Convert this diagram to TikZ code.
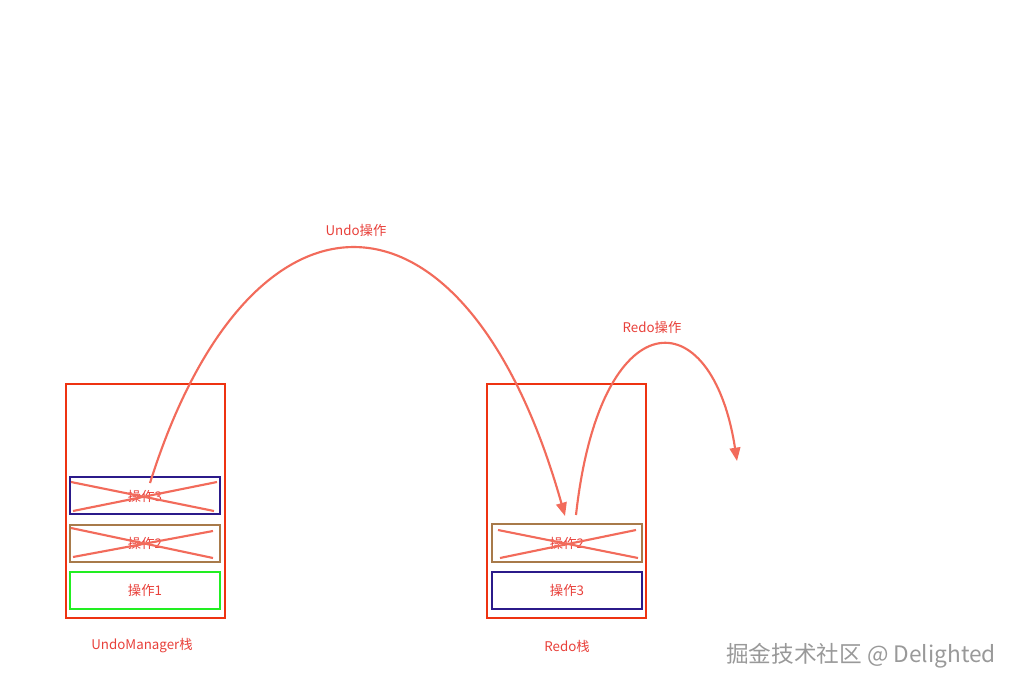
\documentclass[tikz,border=0pt]{standalone}
\usepackage{fontspec}
\setmainfont{Noto Sans CJK SC}
\usetikzlibrary{arrows.meta}
\definecolor{txt}{HTML}{E8403A}
\definecolor{arr}{HTML}{F26B5B}
\definecolor{outer}{HTML}{EE3311}
\definecolor{navy}{HTML}{2B1A8A}
\definecolor{brown}{HTML}{A87A4A}
\definecolor{grn}{HTML}{22EE22}
\tikzset{
 lbl/.style={text=txt,font=\fontsize{10}{12}\selectfont,inner sep=0},
 outerbox/.style={draw=outer,line width=1.6pt},
 opbox/.style={line width=1.6pt},
 crossline/.style={draw=arr,line width=1.6pt},
 arrowline/.style={draw=arr,line width=1.6pt,-{Triangle[length=10pt,width=8pt]}}
}
\begin{document}
\begin{tikzpicture}[x=0.75pt,y=-0.75pt]
\useasboundingbox (0,0) rectangle (1032,692);
\draw[outerbox] (66,384) rectangle (225,618);
\draw[outerbox] (487,384) rectangle (646,618);
\draw[opbox,draw=navy] (70,477) rectangle (220,514);
\node[lbl] (l3) at (145,496) {操作3};
\draw[opbox,draw=brown] (70,525) rectangle (220,562);
\node[lbl] (l2) at (145,543) {操作2};
\draw[opbox,draw=grn] (70,572) rectangle (220,609);
\node[lbl] (l1) at (145,590) {操作1};
\draw[opbox,draw=brown] (492,524) rectangle (642,562);
\node[lbl] (r2) at (567,543) {操作2};
\draw[opbox,draw=navy] (492,572) rectangle (642,609);
\node[lbl] (r3) at (567,590) {操作3};
% crosses
\draw[crossline] (71,482) -- (214,511);
\draw[crossline] (73,511) -- (217,482);
\draw[crossline] (71,528) -- (213,558);
\draw[crossline] (73,557) -- (213,531);
\draw[crossline] (498,530) -- (638,558);
\draw[crossline] (500,558) -- (636,530);
% arrows
\coordinate (us) at (150,483);
\coordinate (ue) at (565,516);
\coordinate (rs) at (576,515);
\coordinate (re) at (737,461);
\draw[arrowline] (us) .. controls (250,165) and (466,165) .. (ue);
\draw[arrowline] (rs) .. controls (600,298) and (712,298) .. (re);
\node[lbl] (ul) at (356,230) {Undo操作};
\node[lbl] (rl) at (652,327) {Redo操作};
\node[lbl] (ml) at (142,646) {UndoManager栈};
\node[lbl] (rdl) at (567,646) {Redo栈};
\node[text=gray!80,font=\fontsize{17}{20}\selectfont,inner sep=0] (wm) at (861,656) {掘金技术社区 @ Delighted};
\end{tikzpicture}
\end{document}
